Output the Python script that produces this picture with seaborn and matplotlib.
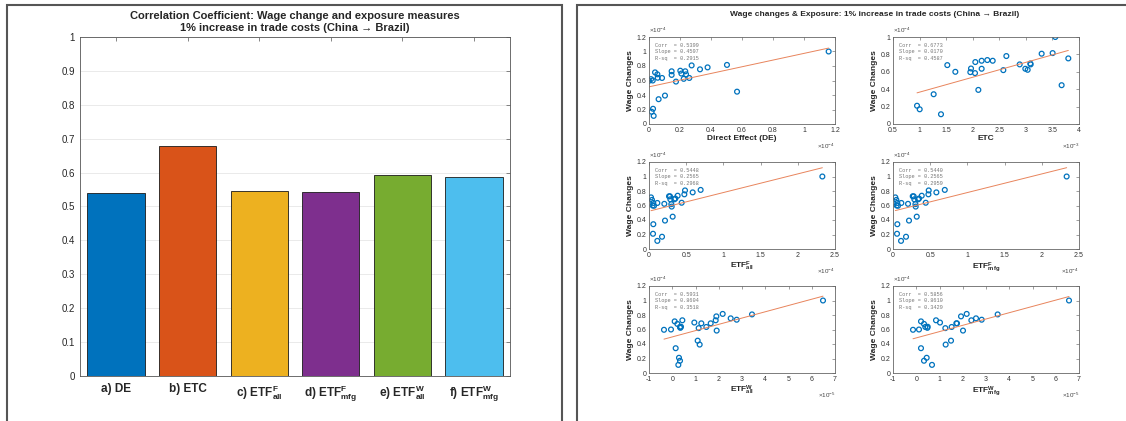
import numpy as np
import matplotlib
matplotlib.use('Agg')
import matplotlib.pyplot as plt
import seaborn as sns
from matplotlib.patches import Rectangle
from matplotlib.ticker import FuncFormatter, MultipleLocator

# ---- left panel: correlation coefficients ----
bar_labels = ['a) DE', 'b) ETC',
              r'c) ETF$^{\mathbf{F}}_{\mathbf{all}}$', r'd) ETF$^{\mathbf{F}}_{\mathbf{mfg}}$',
              r'e) ETF$^{\mathbf{W}}_{\mathbf{all}}$', r'f) ETF$^{\mathbf{W}}_{\mathbf{mfg}}$']
corr = [0.5399, 0.6773, 0.5448, 0.5440, 0.5931, 0.5856]
bar_colors = ['#0072BD', '#D95319', '#EDB120', '#7E2F8E', '#77AC30', '#4DBEEE']

# ---- right panel: wage changes vs exposure (27 states) ----
wage = [0.112, 0.169, 0.210, 0.342, 0.392, 0.446, 0.585, 0.596, 0.600, 0.619,
        0.623, 0.635, 0.635, 0.638, 0.677, 0.685, 0.685, 0.696, 0.712, 0.727,
        0.727, 0.735, 0.754, 0.781, 0.808, 0.815, 1.000]  # x1e-4
de = [0.030, 0.017, 0.026, 0.062, 0.103, 0.568, 0.174, 0.000, 0.024, 0.013,
      0.224, 0.260, 0.084, 0.056, 0.146, 0.239, 0.054, 0.209, 0.039, 0.146,
      0.234, 0.202, 0.329, 0.378, 0.275, 0.503, 1.159]  # x1e-4
etc = [1.403, 1.002, 0.952, 1.265, 2.106, 3.673, 2.043, 1.955, 1.673, 2.576,
       3.034, 2.168, 2.990, 1.968, 1.522, 2.884, 3.090, 3.084, 2.049, 2.168,
       2.376, 2.275, 3.799, 2.633, 3.297, 3.504, 3.554]  # x1e-3
etf_f_all = [0.112, 0.175, 0.054, 0.058, 0.215, 0.318, 0.305, 0.067, 0.049, 0.300,
             0.206, 0.058, 0.112, 0.439, 0.040, 0.287, 0.340, 0.354, 0.027, 0.282,
             0.269, 0.385, 0.475, 0.587, 0.484, 0.694, 2.330]  # x1e-4
etf_f_mfg = [0.108, 0.175, 0.054, 0.058, 0.215, 0.319, 0.305, 0.067, 0.049, 0.301,
             0.202, 0.058, 0.112, 0.440, 0.045, 0.287, 0.337, 0.350, 0.031, 0.278,
             0.265, 0.386, 0.476, 0.583, 0.480, 0.696, 2.334]  # x1e-4
etf_w_all = [0.262, 0.333, 0.290, 0.147, 1.179, 1.093, 1.911, -0.355, -0.054, 1.136,
             0.348, 0.333, 1.466, 0.376, 0.219, 1.251, 1.653, 0.950, 0.104, 0.434,
             1.868, 2.771, 2.513, 1.897, 3.430, 2.169, 6.484]  # x1e-5
etf_w_mfg = [0.677, 0.333, 0.448, 0.204, 1.265, 1.495, 2.011, -0.140, 0.118, 1.251,
             0.477, 1.523, 0.391, 0.491, 0.333, 1.753, 1.724, 1.022, 0.204, 0.850,
             2.370, 2.814, 2.570, 1.925, 3.502, 2.169, 6.570]  # x1e-5
slopes = [0.4597, 0.0170, 0.2565, 0.2565, 0.8604, 0.8610]
r_sq = [0.2915, 0.4587, 0.2968, 0.2959, 0.3518, 0.3429]

sns.set_style("white")
plt.rcParams['font.family'] = ['Liberation Sans', 'DejaVu Sans']
plt.rcParams['mathtext.fontset'] = 'custom'
plt.rcParams['mathtext.rm'] = 'Liberation Sans'
plt.rcParams['mathtext.bf'] = 'Liberation Sans:bold'
plt.rcParams['mathtext.it'] = 'Liberation Sans:italic'

W, H = 1126, 421
fig = plt.figure(figsize=(W / 100, H / 100), dpi=100)

# panel frames
fig.add_artist(Rectangle((7 / W, -0.05), (562 - 7) / W, 1.038, transform=fig.transFigure,
                         fill=False, ec='#555555', lw=1.5))
fig.add_artist(Rectangle((577 / W, -0.05), 0.6, 1.038, transform=fig.transFigure,
                         fill=False, ec='#555555', lw=1.5))

# bar chart
ax = fig.add_axes([80 / W, 1 - 376 / H, 430 / W, (376 - 37) / H])
sns.barplot(x=bar_labels, y=corr, hue=bar_labels, palette=bar_colors, legend=False,
            width=0.8, edgecolor='#1a1a1a', linewidth=0.6, saturation=1, ax=ax)
ax.set_xlim(-0.5, 5.5)
ax.set_ylim(0, 1)
ax.yaxis.set_major_locator(MultipleLocator(0.1))
ax.yaxis.set_major_formatter(FuncFormatter(lambda v, p: f'{v:g}'))
ax.yaxis.grid(True, color='#e6e6e6', lw=0.6)
ax.set_axisbelow(True)
ax.tick_params(direction='in', length=3, width=0.5, top=True, right=True,
               labelsize=7, colors='#555555', labelcolor='#262626')
ax.tick_params(axis='x', labelsize=8.5, pad=5)
for t in ax.get_xticklabels():
    t.set_fontweight('bold')
for s in ax.spines.values():
    s.set_color('#555555')
    s.set_linewidth(0.6)
ax.set_xlabel('')
ax.set_ylabel('')
ax.set_title('Correlation Coefficient: Wage change and exposure measures\n'
             '1% increase in trade costs (China \u2192 Brazil)',
             fontsize=8, fontweight='bold', pad=4, linespacing=1.25)

fig.text(875 / W, 1 - 15 / H,
         'Wage changes & Exposure: 1% increase in trade costs (China \u2192 Brazil)',
         ha='center', va='center', fontsize=6, fontweight='bold')

panels = [
    (de, 'Direct Effect (DE)', (0, 1.2), 0.2, '-4', 1.2),
    (etc, 'ETC', (0.5, 4), 0.5, '-3', 1.0),
    (etf_f_all, r'ETF$^{\mathbf{F}}_{\mathbf{all}}$', (0, 2.5), 0.5, '-4', 1.2),
    (etf_f_mfg, r'ETF$^{\mathbf{F}}_{\mathbf{mfg}}$', (0, 2.5), 0.5, '-4', 1.2),
    (etf_w_all, r'ETF$^{\mathbf{W}}_{\mathbf{all}}$', (-1, 7), 1, '-5', 1.2),
    (etf_w_mfg, r'ETF$^{\mathbf{W}}_{\mathbf{mfg}}$', (-1, 7), 1, '-5', 1.2),
]
col_left = [649, 893]
row_bottom = [124, 249, 373]

for i, (xd, xlab, xlim, xstep, xexp, ytop) in enumerate(panels):
    r, c = divmod(i, 2)
    a = fig.add_axes([col_left[c] / W, 1 - row_bottom[r] / H, 186 / W, 87 / H])
    sns.scatterplot(x=xd, y=wage, ax=a, marker='o', s=12, linewidth=0.9)
    pts = a.collections[-1]
    pts.set_facecolor('none')
    pts.set_edgecolor('#0072BD')
    sns.regplot(x=xd, y=wage, scatter=False, ci=None, truncate=True, ax=a,
                line_kws=dict(color='#E8845C', lw=0.7))
    a.set_xlim(*xlim)
    a.set_ylim(0, ytop)
    a.xaxis.set_major_locator(MultipleLocator(xstep))
    a.yaxis.set_major_locator(MultipleLocator(0.2))
    fmt = FuncFormatter(lambda v, p: f'{v:g}')
    a.xaxis.set_major_formatter(fmt)
    a.yaxis.set_major_formatter(fmt)
    a.tick_params(direction='in', length=2, width=0.4, top=True, right=True,
                  labelsize=5, pad=2, colors='#555555', labelcolor='#333333')
    for s in a.spines.values():
        s.set_color('#666666')
        s.set_linewidth(0.6)
    a.set_xlabel(xlab, fontsize=6, fontweight='bold', labelpad=1)
    a.set_ylabel('Wage Changes', fontsize=6, fontweight='bold', labelpad=2)
    a.text(0, 1.02, r'$\times10^{-4}$', transform=a.transAxes, ha='left', va='bottom',
           fontsize=4.5, color='#444444')
    a.text(1, -0.2, r'$\times10^{' + xexp + '}$', transform=a.transAxes, ha='right',
           va='top', fontsize=4.5, color='#444444')
    a.text(0.03, 0.93,
           f'Corr  = {corr[i]:.4f}\nSlope = {slopes[i]:.4f}\nR-sq  = {r_sq[i]:.4f}',
           transform=a.transAxes, ha='left', va='top', fontsize=3.8,
           family='Liberation Mono', color='#777777', linespacing=1.35)

fig.savefig('out.png', dpi=100)
